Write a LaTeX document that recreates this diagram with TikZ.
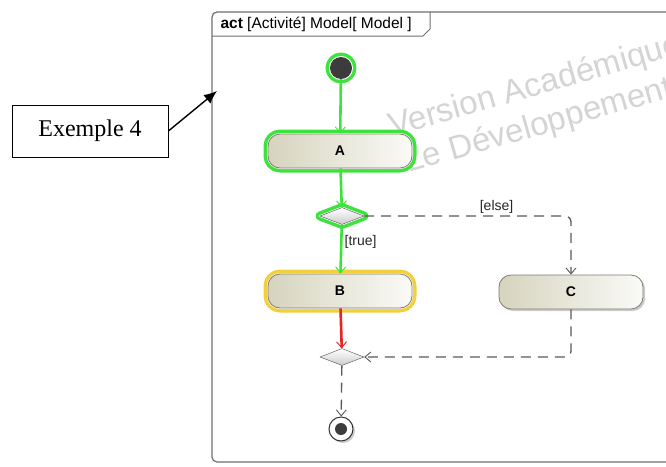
\documentclass[tikz,border=0pt]{standalone}
\usepackage{fontspec}
\setmainfont{Liberation Serif}
\newfontfamily\umlfont{Liberation Sans}
\usetikzlibrary{positioning, shapes.geometric, arrows.meta, shadows}

\definecolor{hlgreen}{HTML}{3DE23D}
\definecolor{hlyellow}{HTML}{F2CF3C}
\definecolor{flowred}{HTML}{E52424}
\definecolor{actfill}{HTML}{D6D4BE}
\definecolor{actline}{HTML}{7D7C6E}
\definecolor{framegray}{HTML}{6E6E6E}
\definecolor{wmgray}{HTML}{D4D4D4}
\definecolor{initgray}{HTML}{3C3C3C}

\begin{document}
\begin{tikzpicture}[x=1pt, y=-1pt,
    umltext/.style = {font=\umlfont\fontsize{14}{16}\selectfont},
    action/.style = {rectangle, rounded corners=12pt, draw=actline, thick,
        minimum width=144pt, minimum height=34pt, inner sep=0pt,
        left color=actfill, right color=actfill!12,
        font=\umlfont\fontsize{14}{16}\selectfont\bfseries,
        drop shadow={shadow xshift=2pt, shadow yshift=-2pt, opacity=.4}},
    hilite/.style = {preaction={draw=#1, line width=9pt, line join=round},
        preaction={draw=white, line width=2pt, line join=round}},
    gateway/.style = {diamond, aspect=2.5, draw=gray!60!black, inner sep=0pt,
        minimum width=44pt, minimum height=17pt, top color=white, bottom color=gray!40},
    initial/.style = {circle, fill=initgray, minimum size=22pt, inner sep=0pt},
    final/.style = {circle, draw=black!80, line width=1pt, fill=white,
        minimum size=24pt, inner sep=0pt,
        drop shadow={shadow xshift=2pt, shadow yshift=-2pt, opacity=.4},
        path picture={\fill[initgray] (path picture bounding box.center) circle (6pt);}},
    flow/.style = {-{Straight Barb[length=6pt, width=10pt, line width=0.9pt]}, line width=2.6pt},
    dflow/.style = {-{Straight Barb[length=6pt, width=10pt, line width=0.9pt]}, draw=black!65,
        line width=1.3pt, dash pattern=on 10pt off 7pt, rounded corners=6pt},
    guard/.style = {umltext, text=black!85, inner sep=2pt},
    watermark/.style = {rotate=16, text=wmgray, inner sep=0pt, anchor=base west,
        font=\umlfont\fontsize{33}{33}\selectfont},
    note/.style = {rectangle, draw, thick, minimum width=156pt, minimum height=52pt,
        font=\fontsize{24}{26}\selectfont},
]
\useasboundingbox (0,0) rectangle (666,466);
\clip (0,0) rectangle (666,466);

% watermark of the tool
\node (wm1) [watermark] at (392,137) {Version Académique};
\node (wm2) [watermark] at (408,173) {Le Développement};

% diagram frame
\draw[framegray, line width=1.2pt, rounded corners=5pt] (700,12) -- (212,12) -- (212,462) -- (700,462);
\draw[framegray, line width=1pt] (212,36) -- (423,36) -- (430,29) -- (430,12);
\node (tab) [umltext, font=\umlfont\fontsize{15.5}{17}\selectfont, anchor=west] at (217,24)
    {\textbf{act} [Activité] Model[ Model ]};

% nodes
\node (init) [initial, hilite=hlgreen] at (341,68) {};
\node (A) [action, hilite=hlgreen] at (340,151) {A};
\node (dec) [gateway, hilite=hlgreen] at (342,216) {};
\node (B) [action, hilite=hlyellow] at (340,291) {B};
\node (C) [action] at (571,292) {C};
\node (merge) [gateway] at (342,357) {};
\node (final) [final] at (341,429) {};

% flows
\draw[flow, hlgreen] (init) -- (A);
\draw[flow, hlgreen] (A) -- (dec);
\draw[flow, hlgreen] (dec) -- node[guard, right, pos=0.35] {[true]} (B);
\draw[dflow] (dec) -| node[guard, above, pos=0.32] {[else]} (C);
\draw[flow, flowred] (B) -- (merge);
\draw[dflow] (C) |- (merge);
\draw[dflow] (merge) -- (final);

% note
\node (ex) [note] at (90,131) {Exemple 4};
\coordinate (frm) at (217,91);
\draw[-{Latex[length=13pt, width=11pt]}, line width=1.4pt] (ex.east) -- (frm);

\end{tikzpicture}
\end{document}
